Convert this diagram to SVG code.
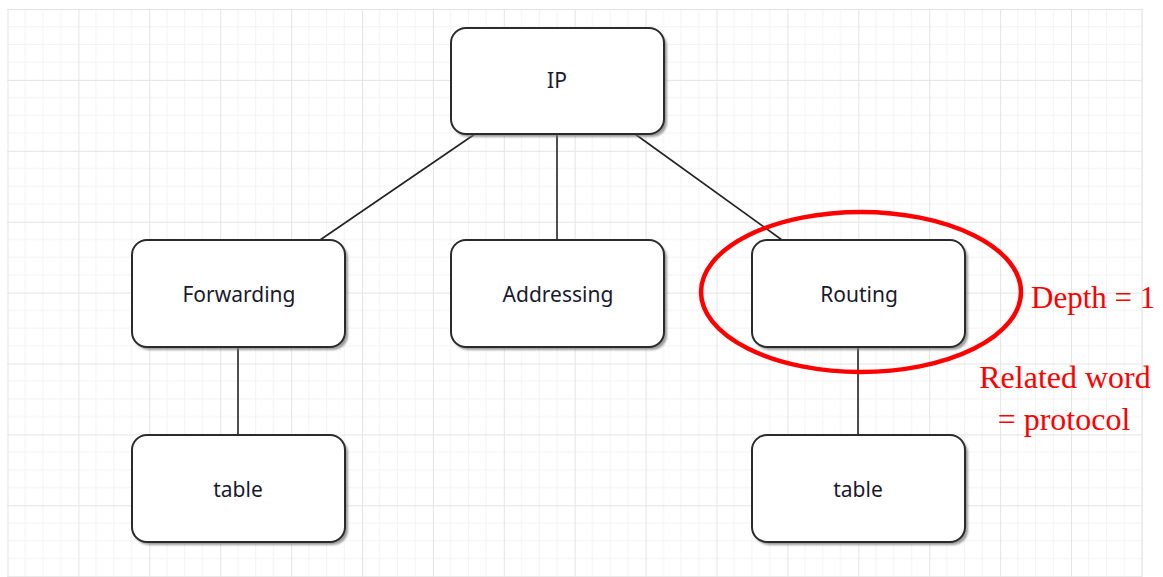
<svg xmlns="http://www.w3.org/2000/svg" width="1163" height="577" viewBox="0 0 1163 577">
  <style>
    .node rect.box { fill: #ffffff; stroke: #2b2b2b; stroke-width: 2; }
    .node rect.shadow { fill: #7a7a7a; opacity: 0.75; }
    .node text { font-family: "Noto Sans", "DejaVu Sans", sans-serif; font-size: 21px; fill: #1a1a2e; text-anchor: middle; }
    .edge { stroke: #222222; stroke-width: 1.6; fill: none; }
    .note { font-family: "Liberation Serif", "Times New Roman", serif; fill: #ff0000; }
  </style>
  <defs>
    <pattern id="grid" patternUnits="userSpaceOnUse" x="7.5" y="9" width="70.9" height="70.9">
      <path d="M17.725 0V70.9M35.45 0V70.9M53.175 0V70.9M0 17.725H70.9M0 35.45H70.9M0 53.175H70.9" stroke="#f3f3f3" stroke-width="1" fill="none"/>
      <path d="M0.5 0V70.9M0 0.5H70.9" stroke="#e4e4e4" stroke-width="1" fill="none"/>
    </pattern>
    <filter id="blur" x="-10%" y="-10%" width="120%" height="120%">
      <feGaussianBlur stdDeviation="1.2"/>
    </filter>
  </defs>
  <rect width="1163" height="577" fill="#ffffff"/>
  <rect x="7" y="9" width="1135.5" height="568" fill="url(#grid)"/>
  <line x1="1142" y1="9" x2="1142" y2="577" stroke="#e4e4e4"/>

  <g id="connectors">
    <line class="edge" x1="475" y1="134" x2="320" y2="240"/>
    <line class="edge" x1="557" y1="134" x2="557" y2="240"/>
    <line class="edge" x1="635" y1="134" x2="782" y2="240"/>
    <line class="edge" x1="238" y1="347" x2="238" y2="435"/>
    <line class="edge" x1="858" y1="347" x2="858" y2="435"/>
  </g>

  <g id="node-ip" class="node">
    <rect class="shadow" x="453" y="31" width="214" height="106" rx="15" filter="url(#blur)"/>
    <rect class="box" x="451" y="28" width="213" height="106" rx="15"/>
    <text x="557" y="88">IP</text>
  </g>
  <g id="node-forwarding" class="node">
    <rect class="shadow" x="134" y="243" width="214" height="107" rx="15" filter="url(#blur)"/>
    <rect class="box" x="132" y="240" width="213" height="107" rx="15"/>
    <text x="239" y="302">Forwarding</text>
  </g>
  <g id="node-addressing" class="node">
    <rect class="shadow" x="453" y="243" width="214" height="107" rx="15" filter="url(#blur)"/>
    <rect class="box" x="451" y="240" width="213" height="107" rx="15"/>
    <text x="558" y="302">Addressing</text>
  </g>
  <g id="node-routing" class="node">
    <rect class="shadow" x="754" y="243" width="214" height="107" rx="15" filter="url(#blur)"/>
    <rect class="box" x="752" y="240" width="213" height="107" rx="15"/>
    <text x="859" y="302">Routing</text>
  </g>
  <g id="node-table-left" class="node">
    <rect class="shadow" x="134" y="438" width="214" height="107" rx="15" filter="url(#blur)"/>
    <rect class="box" x="132" y="435" width="213" height="107" rx="15"/>
    <text x="238" y="497">table</text>
  </g>
  <g id="node-table-right" class="node">
    <rect class="shadow" x="754" y="438" width="214" height="107" rx="15" filter="url(#blur)"/>
    <rect class="box" x="752" y="435" width="213" height="107" rx="15"/>
    <text x="858" y="497">table</text>
  </g>

  <g id="annotation">
    <ellipse cx="861" cy="292" rx="160" ry="80" fill="none" stroke="#ff0000" stroke-width="4.5"/>
    <text class="note" x="1031" y="308" font-size="31">Depth = 1</text>
    <text class="note" x="1065" y="388" font-size="32" text-anchor="middle">Related word</text>
    <text class="note" x="1064" y="430" font-size="32" text-anchor="middle">= protocol</text>
  </g>
</svg>
